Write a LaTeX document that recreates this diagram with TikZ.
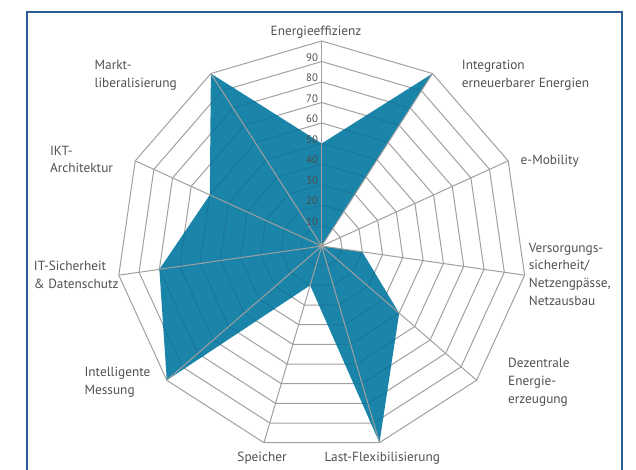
\documentclass[tikz,border=0pt]{standalone}
\usepackage{fontspec}
\setmainfont{PT Sans}
\definecolor{fillc}{HTML}{1B84A9}
\definecolor{gridc}{HTML}{A0A0A0}
\definecolor{ringin}{HTML}{19739A}
\definecolor{txtc}{HTML}{505050}
\definecolor{tickc}{HTML}{4C4C4C}
\definecolor{framec}{HTML}{2B5E96}
\begin{document}
\begin{tikzpicture}[x=1pt,y=-1pt,
  lbl/.style={text=txtc, font=\fontsize{13.3}{17.8}\selectfont, align=left, inner sep=0pt, anchor=west},
  clbl/.style={text=txtc, font=\fontsize{13.3}{17.8}\selectfont, inner sep=0pt, anchor=center},
  tick/.style={text=tickc, font=\fontsize{10.8}{12}\selectfont, inner sep=0pt, anchor=east},
  ring/.style={draw=gridc, line width=1pt},
  ringdark/.style={draw=ringin, line width=0.8pt},
  spoke/.style={draw=gridc, line width=1pt},
  framestyle/.style={draw=framec, line width=2pt}]
\useasboundingbox (0,0) rectangle (636,470);
\clip (0,0) rectangle (636,470);
\draw[framestyle] (27,490) -- (27,12.5) -- (621.5,12.5) -- (621.5,490);
\begin{scope}[shift={(321.7,246)}]
  \coordinate (O) at (0,0);
  \foreach \i in {0,...,10} \coordinate (v\i) at ({\i*360/11-90}:205);
  \foreach \v [count=\i from 0] in {50,100,0,20,50,100,20,100,80,60,100}
    \coordinate (p\i) at ({\i*360/11-90}:{\v*2.05});
  % rings
  \foreach \k in {1,...,10}{
    \draw[ring] ({-90}:{\k*20.5}) \foreach \i in {1,...,10}{ -- ({\i*360/11-90}:{\k*20.5}) } -- cycle;
  }
  % data area
  \fill[fillc] (p0) -- (p1) -- (p2) -- (p3) -- (p4) -- (p5) -- (p6) -- (p7) -- (p8) -- (p9) -- (p10) -- cycle;
  \begin{scope}
    \clip (p0) -- (p1) -- (p2) -- (p3) -- (p4) -- (p5) -- (p6) -- (p7) -- (p8) -- (p9) -- (p10) -- cycle;
    \foreach \k in {1,...,9}{
      \draw[ringdark] ({-90}:{\k*20.5}) \foreach \i in {1,...,10}{ -- ({\i*360/11-90}:{\k*20.5}) } -- cycle;
    }
  \end{scope}
  % spokes
  \foreach \i in {0,...,10} \draw[spoke] (O) -- (v\i);
  \fill[gridc] (O) circle (2.2);
  % tick labels
  \foreach \k/\t in {1/10,2/20,3/30,4/40,5/50,6/60,7/70,8/80,9/90}
    \node[tick] (t\k) at (-3.5,{-\k*20.5-4}) {\t};
\end{scope}
% axis labels
\node[clbl] (l0) at (316,32.3) {Energieeffizienz};
\node[lbl] (l1) at (461.7,75.5) {Integration\\erneuerbarer Energien};
\node[lbl] (l2) at (520.5,160.7) {e-Mobility};
\node[lbl] (l3) at (528.6,274.2) {Versorgungs-\\sicherheit/\\Netzengpässe,\\Netzausbau};
\node[lbl] (l4) at (508,382.3) {Dezentrale\\Energie-\\erzeugung};
\node[clbl] (l5) at (382.3,458.3) {Last-Flexibilisierung};
\node[clbl] (l6) at (262,458.3) {Speicher};
\node[lbl] (l7) at (84.4,382.2) {Intelligente\\Messung};
\node[lbl] (l8) at (33.7,274.5) {IT-Sicherheit\\\&~Datenschutz};
\node[lbl] (l9) at (49.9,159.5) {IKT-\\Architektur};
\node[lbl] (l10) at (94.5,75.5) {Markt-\\liberalisierung};
\end{tikzpicture}
\end{document}
